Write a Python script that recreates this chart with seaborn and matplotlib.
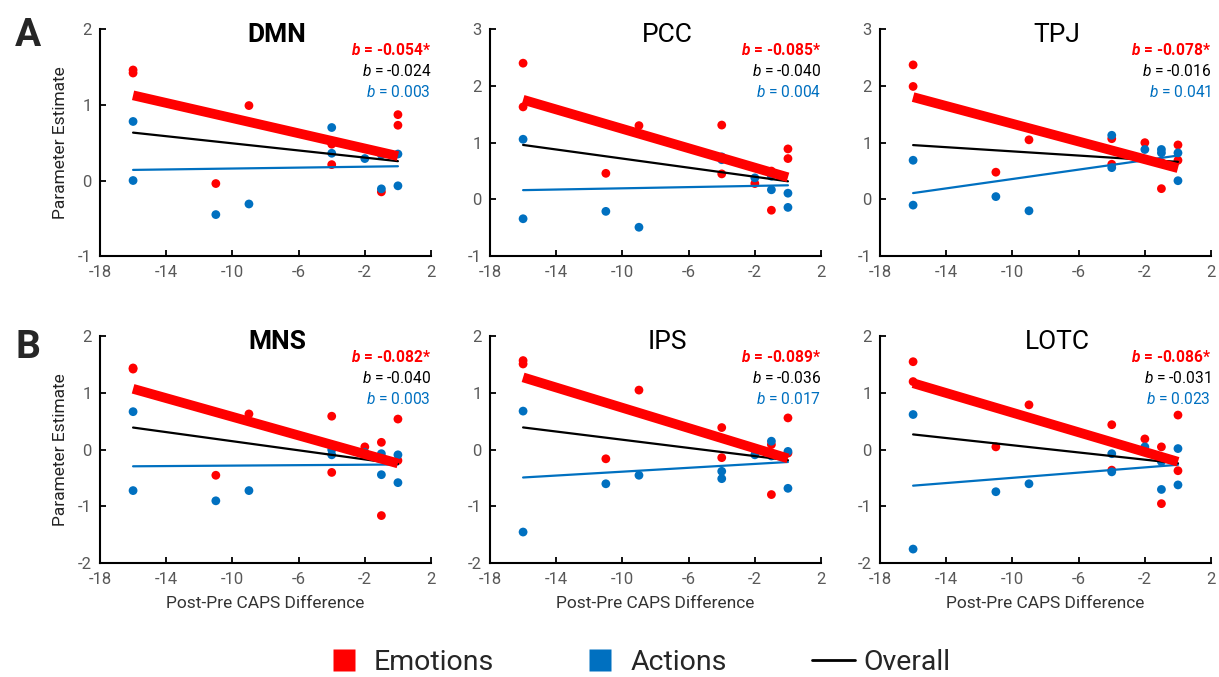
import numpy as np
import pandas as pd
import matplotlib
matplotlib.use("Agg")
import matplotlib.pyplot as plt
from matplotlib.lines import Line2D
import seaborn as sns

# ===========================
# Data
# ===========================

caps_diff = [-16, -16, -11, -9, -4, -4, -2, -1, -1, 0, 0]

regions = ["DMN", "PCC", "TPJ", "MNS", "IPS", "LOTC"]
bold_titles = ["DMN", "MNS"]

dmn_emo = [1.46, 1.42, -0.04, 0.99, 0.48, 0.21, 0.42, 0.37, -0.15, 0.87, 0.73]
dmn_act = [0.78, 0.00, -0.45, -0.31, 0.70, 0.36, 0.29, 0.34, -0.11, 0.35, -0.07]

pcc_emo = [2.40, 1.63, 0.46, 1.30, 1.31, 0.45, 0.28, 0.50, -0.19, 0.89, 0.72]
pcc_act = [1.06, -0.34, -0.21, -0.49, 0.75, 0.70, 0.38, 0.41, 0.17, 0.11, -0.14]

tpj_emo = [2.37, 1.99, 0.48, 1.05, 1.07, 0.62, 1.00, 0.65, 0.19, 0.96, 0.69]
tpj_act = [0.69, -0.10, 0.05, -0.20, 1.13, 0.56, 0.88, 0.88, 0.82, 0.82, 0.33]

mns_emo = [1.44, 1.42, -0.45, 0.63, 0.59, -0.40, 0.05, 0.13, -1.16, 0.54, -0.19]
mns_act = [0.67, -0.72, -0.90, -0.72, 0.00, -0.09, -0.05, -0.07, -0.44, -0.09, -0.58]

ips_emo = [1.57, 1.51, -0.16, 1.05, 0.39, -0.14, 0.00, 0.09, -0.79, 0.56, -0.06]
ips_act = [0.68, -1.45, -0.60, -0.45, -0.38, -0.51, -0.09, 0.15, -0.11, -0.03, -0.68]

lotc_emo = [1.55, 1.20, 0.05, 0.79, 0.44, -0.36, 0.19, 0.05, -0.95, 0.61, -0.37]
lotc_act = [0.62, -1.75, -0.74, -0.60, -0.07, -0.39, 0.05, -0.21, -0.70, 0.02, -0.62]

emotions = [dmn_emo, pcc_emo, tpj_emo, mns_emo, ips_emo, lotc_emo]
actions = [dmn_act, pcc_act, tpj_act, mns_act, ips_act, lotc_act]

# slopes printed in the corners
b_emo = ["-0.054*", "-0.085*", "-0.078*", "-0.082*", "-0.089*", "-0.086*"]
b_all = ["-0.024", "-0.040", "-0.016", "-0.040", "-0.036", "-0.031"]
b_act = ["0.003", "0.004", "0.041", "0.003", "0.017", "0.023"]

y_ranges = [(-1, 2), (-1, 3), (-1, 3), (-2, 2), (-2, 2), (-2, 2)]
x_ticks = [-18, -14, -10, -6, -2, 2]

RED = "#FF0000"
BLUE = "#0070C0"
GREY = "#595959"

# ===========================
# Style
# ===========================

sns.set_theme(style="ticks")
plt.rcParams["font.family"] = ["Roboto", "DejaVu Sans"]
plt.rcParams["axes.unicode_minus"] = False
plt.rcParams["mathtext.fontset"] = "custom"
plt.rcParams["mathtext.rm"] = "Roboto"
plt.rcParams["mathtext.it"] = "Roboto:italic"
plt.rcParams["mathtext.bf"] = "Roboto:bold"
plt.rcParams["mathtext.bfit"] = "Roboto:bold:italic"

fig, axes = plt.subplots(2, 3, figsize=(12.19, 6.77), dpi=100)
fig.subplots_adjust(left=0.082, right=0.9935, top=0.957, bottom=0.168,
                    wspace=0.178, hspace=0.352)

# ===========================
# Panels
# ===========================

for i, ax in enumerate(axes.flat):
    df = pd.DataFrame({
        "caps": caps_diff * 2,
        "estimate": emotions[i] + actions[i],
        "condition": ["Emotions"] * len(caps_diff) + ["Actions"] * len(caps_diff),
    })

    sns.scatterplot(data=df, x="caps", y="estimate", hue="condition",
                    palette={"Emotions": RED, "Actions": BLUE},
                    s=40, edgecolor="none", legend=False, ax=ax, zorder=2)

    # trendlines
    sns.regplot(x=caps_diff, y=actions[i], ci=None, scatter=False, ax=ax,
                line_kws={"color": BLUE, "lw": 1.6, "zorder": 3})
    sns.regplot(x=df["caps"], y=df["estimate"], ci=None, scatter=False, ax=ax,
                line_kws={"color": "black", "lw": 1.6, "zorder": 4})
    sns.regplot(x=caps_diff, y=emotions[i], ci=None, scatter=False, ax=ax,
                line_kws={"color": RED, "lw": 7, "zorder": 5,
                          "solid_capstyle": "butt"})

    lo, hi = y_ranges[i]
    ax.set_xlim(-18, 2)
    ax.set_ylim(lo, hi)
    ax.set_xticks(x_ticks)
    ax.set_yticks(range(lo, hi + 1))
    ax.tick_params(direction="in", length=4, width=1.3, color="black",
                   labelcolor=GREY, labelsize=12, pad=6)
    for side in ["left", "bottom"]:
        ax.spines[side].set_linewidth(1.5)
        ax.spines[side].set_color("black")
    sns.despine(ax=ax)

    ax.set_xlabel("")
    ax.set_ylabel("")
    if i % 3 == 0:
        ax.set_ylabel("Parameter Estimate", fontsize=12.5, color="#222222",
                      labelpad=7)
    if i >= 3:
        ax.set_xlabel("Post-Pre CAPS Difference", fontsize=12.5, color="#333333",
                      labelpad=7)

    weight = "bold" if regions[i] in bold_titles else "normal"
    ax.text(0.535, 0.975, regions[i], transform=ax.transAxes, ha="center",
            va="center", fontsize=19, fontweight=weight, color="black")

    ax.text(1.0, 0.907, r"$\mathbfit{b}$ = " + b_emo[i], transform=ax.transAxes,
            ha="right", va="center", fontsize=11.2, fontweight="bold", color=RED)
    ax.text(1.0, 0.815, r"$\mathit{b}$ = " + b_all[i], transform=ax.transAxes,
            ha="right", va="center", fontsize=11.2, color="black")
    ax.text(1.0, 0.722, r"$\mathit{b}$ = " + b_act[i], transform=ax.transAxes,
            ha="right", va="center", fontsize=11.2, color=BLUE)

fig.text(0.023, 0.948, "A", fontsize=28, fontweight="bold", ha="center", va="center")
fig.text(0.023, 0.487, "B", fontsize=28, fontweight="bold", ha="center", va="center")

# ===========================
# Legend
# ===========================

handles = [
    Line2D([], [], marker="s", color="none", markerfacecolor=RED,
           markeredgecolor="none", markersize=16),
    Line2D([], [], marker="s", color="none", markerfacecolor=BLUE,
           markeredgecolor="none", markersize=16),
    Line2D([], [], color="black", lw=2),
]
fig.legend(handles, ["Emotions", "Actions", "Overall"], loc="center",
           bbox_to_anchor=(0.522, 0.022), ncol=3, frameon=False,
           fontsize=20.5, columnspacing=3.0, handlelength=1.5, handletextpad=0.3)

fig.savefig("out.png", dpi=100)
